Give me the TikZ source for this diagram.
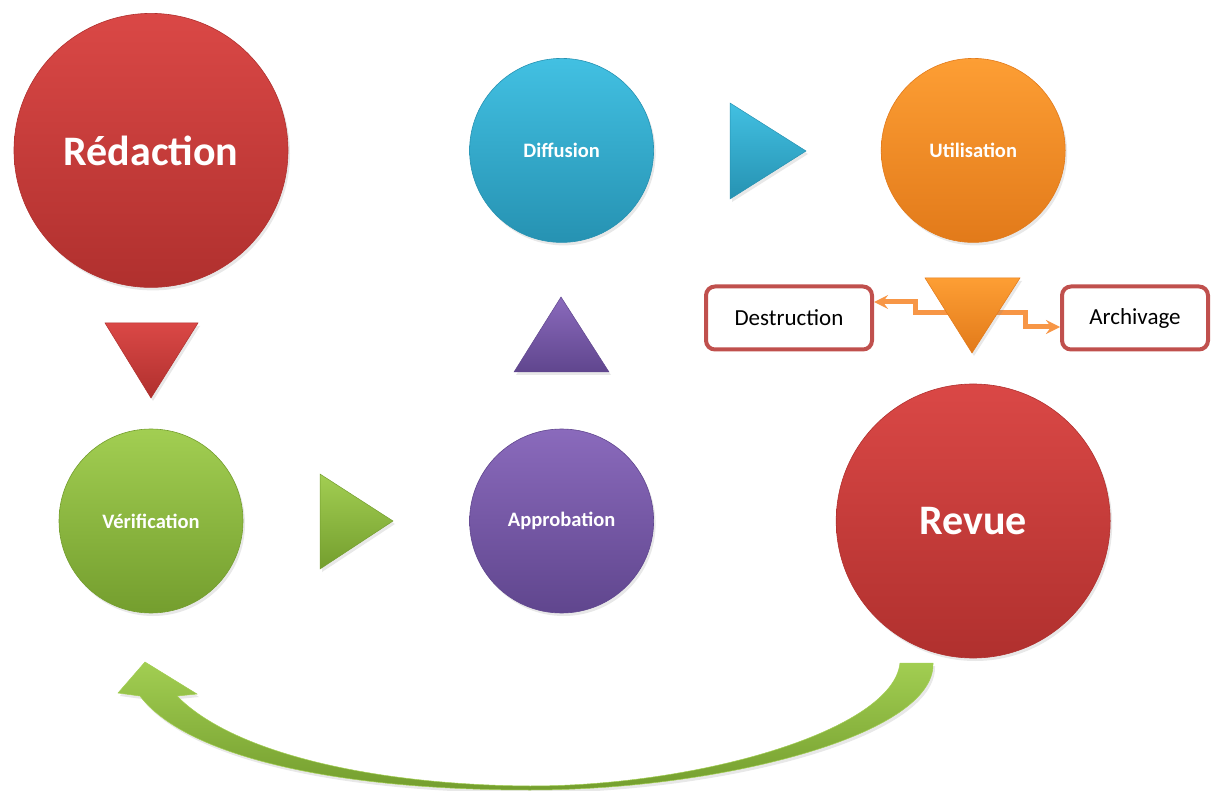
\documentclass[tikz,border=0pt]{standalone}
\usepackage{fontspec}
\setmainfont{Carlito}
\usetikzlibrary{arrows,shapes,positioning,shadows}
\definecolor{cyred}{RGB}{218,72,70}
\definecolor{cyreddark}{RGB}{176,48,46}
\definecolor{cyblue}{RGB}{66,192,226}
\definecolor{cybluedark}{RGB}{38,146,178}
\definecolor{cyorange}{RGB}{253,158,52}
\definecolor{cyorangedark}{RGB}{226,122,26}
\definecolor{cygreen}{RGB}{162,206,82}
\definecolor{cygreendark}{RGB}{116,158,46}
\definecolor{cypurple}{RGB}{138,106,188}
\definecolor{cypurpledark}{RGB}{96,70,142}
\definecolor{cyboxred}{RGB}{192,80,77}
\definecolor{cyline}{RGB}{247,150,70}
\tikzstyle{stage} = [circle, inner sep=0pt, minimum size=184pt, text=white, line width=0.6pt, font=\fontsize{20.5}{24}\selectfont\bfseries, drop shadow={opacity=0.18, shadow xshift=2pt, shadow yshift=-3pt}]
\tikzstyle{bigstage} = [stage, minimum size=274pt, font=\fontsize{42}{48}\selectfont\bfseries]
\tikzstyle{pointer} = [line width=0.5pt, drop shadow={opacity=0.18, shadow xshift=2pt, shadow yshift=-3pt}]
\tikzstyle{outcome} = [rectangle, rounded corners=9pt, minimum width=166pt, minimum height=63pt, text centered, draw=cyboxred, fill=white, line width=4pt, font=\fontsize{23}{27}\selectfont]
\tikzstyle{arrow} = [line width=5pt, ->, >=stealth, color=cyline]
\begin{document}
\begin{tikzpicture}[x=1pt, y=-1pt]
\useasboundingbox (0,0) rectangle (1211,791);
% Circles
\node (verification) [stage, top color=cygreen, bottom color=cygreendark, draw=cygreendark] at (151,521) {Vérification};
\node (redaction) [bigstage, top color=cyred, bottom color=cyreddark, draw=cyreddark, above=141pt of verification] {Rédaction};
\node (approbation) [stage, top color=cypurple, bottom color=cypurpledark, draw=cypurpledark, right=226pt of verification] {Approbation};
\node (diffusion) [stage, top color=cyblue, bottom color=cybluedark, draw=cybluedark, above=186pt of approbation] {Diffusion};
\node (utilisation) [stage, top color=cyorange, bottom color=cyorangedark, draw=cyorangedark, right=227pt of diffusion] {Utilisation};
\node (revue) [bigstage, top color=cyred, bottom color=cyreddark, draw=cyreddark, below=141pt of utilisation] {Revue};
% Triangles
\shade[pointer, top color=cyred, bottom color=cyreddark, draw=cyreddark] (105,323) -- (198,323) -- (151,398) -- cycle;
\shade[pointer, top color=cygreen, bottom color=cygreendark, draw=cygreendark] (320,474) -- (393,521) -- (320,569) -- cycle;
\shade[pointer, top color=cypurple, bottom color=cypurpledark, draw=cypurpledark] (514,372) -- (561,297) -- (609,372) -- cycle;
\shade[pointer, top color=cyblue, bottom color=cybluedark, draw=cybluedark] (730,103) -- (806,151) -- (730,199) -- cycle;
% End of life
\node (destruction) [outcome] at (789,318) {Destruction};
\node (archivage) [outcome, minimum width=146pt] at (1135,318) {Archivage};
\coordinate (forkL) at (956,313);
\coordinate (forkR) at (988,313);
\draw[arrow] (forkL) -- ++(-41,0) -- ++(0,-11) -- ([yshift=16pt]destruction.east);
\draw[arrow] (forkR) -- ++(37,0) -- ++(0,14) -- ([yshift=-9pt]archivage.west);
\shade[pointer, top color=cyorange, bottom color=cyorangedark, draw=cyorangedark] (925,278) -- (1020,278) -- (972,353) -- cycle;
% Loop back
\shade[pointer, top color=cygreen, bottom color=cygreendark, draw=cygreen] (900,663) -- (933,663)
  .. controls (936,735) and (720,790) .. (530,790)
  .. controls (330,790) and (185,755) .. (140,696)
  -- (118,693) -- (145,662) -- (197,694) -- (177,696)
  .. controls (235,755) and (380,785) .. (530,786)
  .. controls (700,786) and (893,730) .. (900,663) -- cycle;
\end{tikzpicture}
\end{document}
